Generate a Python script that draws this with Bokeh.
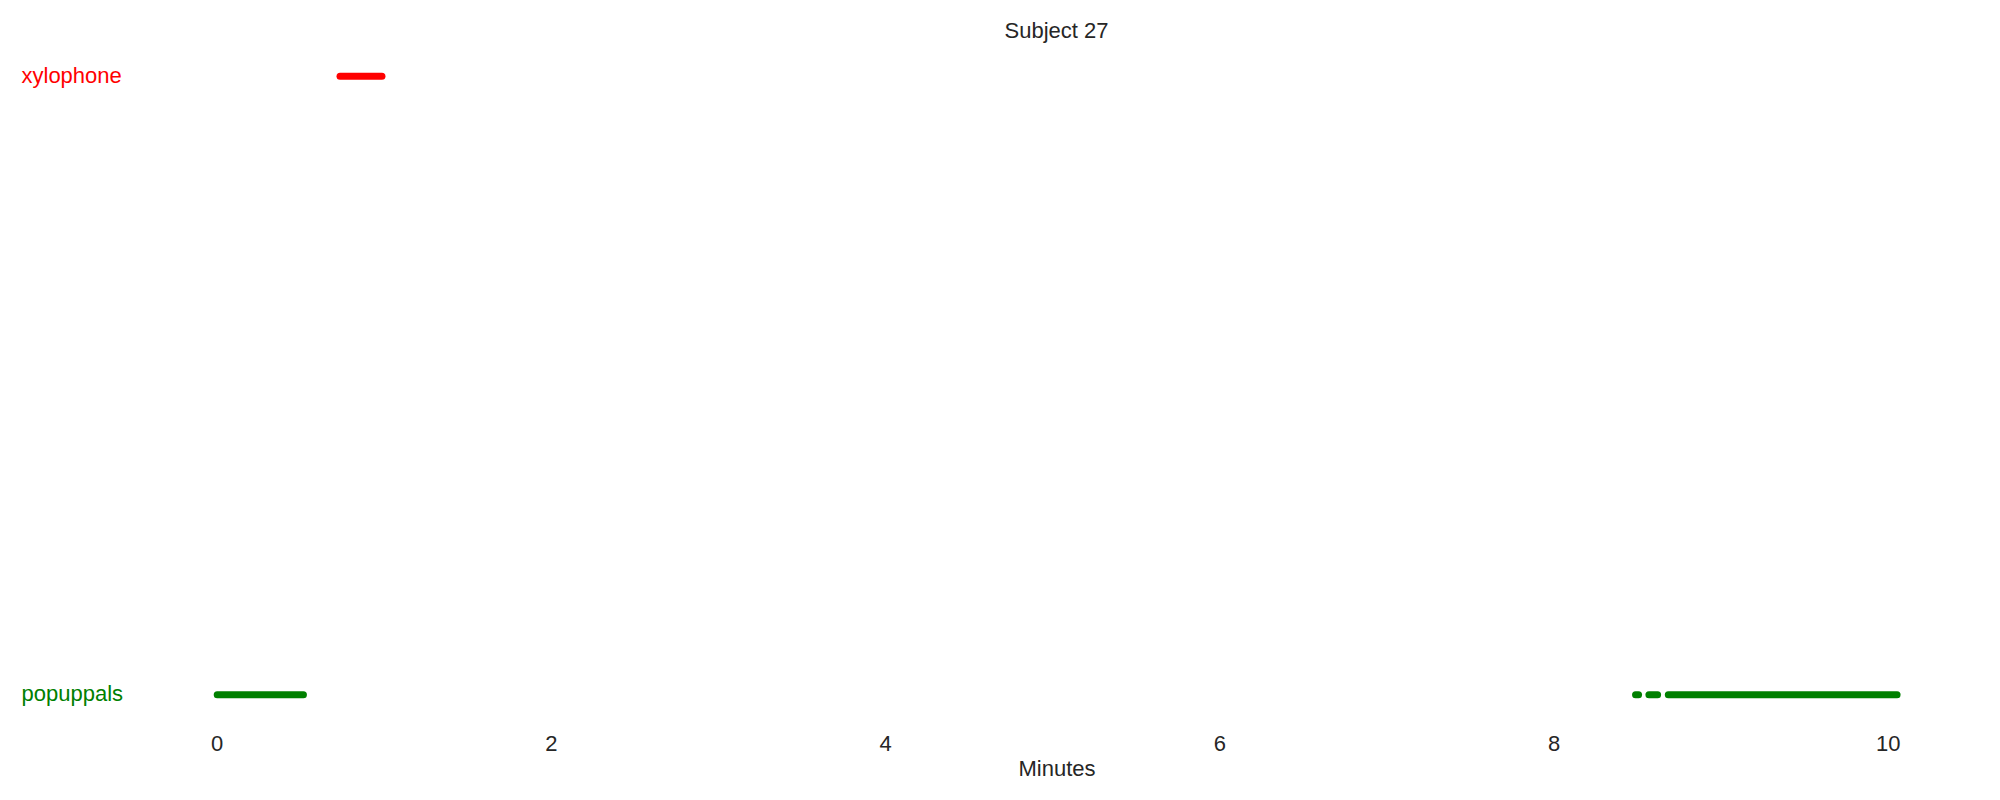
from bokeh.plotting import figure
from bokeh.models import ColumnDataSource, Label, FixedTicker, Range1d, Title
from bokeh.embed import file_html
from bokeh.resources import INLINE

# ---- data ----
categories = ["popuppals", "xylophone"]
category_colors = ["#008000", "#ff0000"]
popuppals_starts = [0.0, 8.488, 8.568, 8.684]
popuppals_ends = [0.516, 8.506, 8.620, 10.053]
xylophone_starts = [0.735]
xylophone_ends = [0.986]
x_ticks = [0, 2, 4, 6, 8, 10]

FONT = "Liberation Sans"
TXT = "#262626"

p = figure(width=2000, height=800, output_backend="svg", toolbar_location=None,
           x_range=Range1d(-1.2968, 10.672), y_range=Range1d(-0.0415, 1.0416),
           min_border_left=0, min_border_right=0, min_border_top=50,
           min_border_bottom=80, title="Subject 27")
p.title.align = "left"
p.title.offset = 1004
p.title.text_font = FONT
p.title.text_font_size = "22px"
p.title.text_font_style = "normal"
p.title.text_color = TXT
p.title.standoff = 16

p.outline_line_color = None
p.xgrid.visible = False
p.ygrid.visible = False
p.yaxis.visible = False

xa = p.xaxis[0]
xa.ticker = FixedTicker(ticks=x_ticks)
xa.axis_line_color = None
xa.major_tick_line_color = None
xa.minor_tick_line_color = None
xa.major_tick_out = 0
xa.major_tick_in = 0
xa.minor_tick_out = 0
xa.minor_tick_in = 0
xa.major_label_standoff = 15
xa.major_label_text_font = FONT
xa.major_label_text_font_size = "22px"
xa.major_label_text_color = TXT

xlabel = Title(text="Minutes", align="left", offset=1018, text_font=FONT,
               text_font_size="22px", text_font_style="normal", text_color=TXT,
               standoff=0)
p.add_layout(xlabel, "below")

series = {
    "popuppals": (popuppals_starts, popuppals_ends),
    "xylophone": (xylophone_starts, xylophone_ends),
}
for i, cat in enumerate(categories):
    s, e = series[cat]
    src = ColumnDataSource(dict(x0=s, x1=e, y=[i] * len(s)))
    p.segment(x0="x0", y0="y", x1="x1", y1="y", source=src,
              line_color=category_colors[i], line_width=7, line_cap="round")
    p.add_layout(Label(x=21, y=i, x_units="screen", y_units="data", text=cat,
                       y_offset=1,
                       text_color=category_colors[i], text_font=FONT,
                       text_font_size="22px", text_align="left",
                       text_baseline="middle"))

open("out.html", "w").write(file_html(p, INLINE))
